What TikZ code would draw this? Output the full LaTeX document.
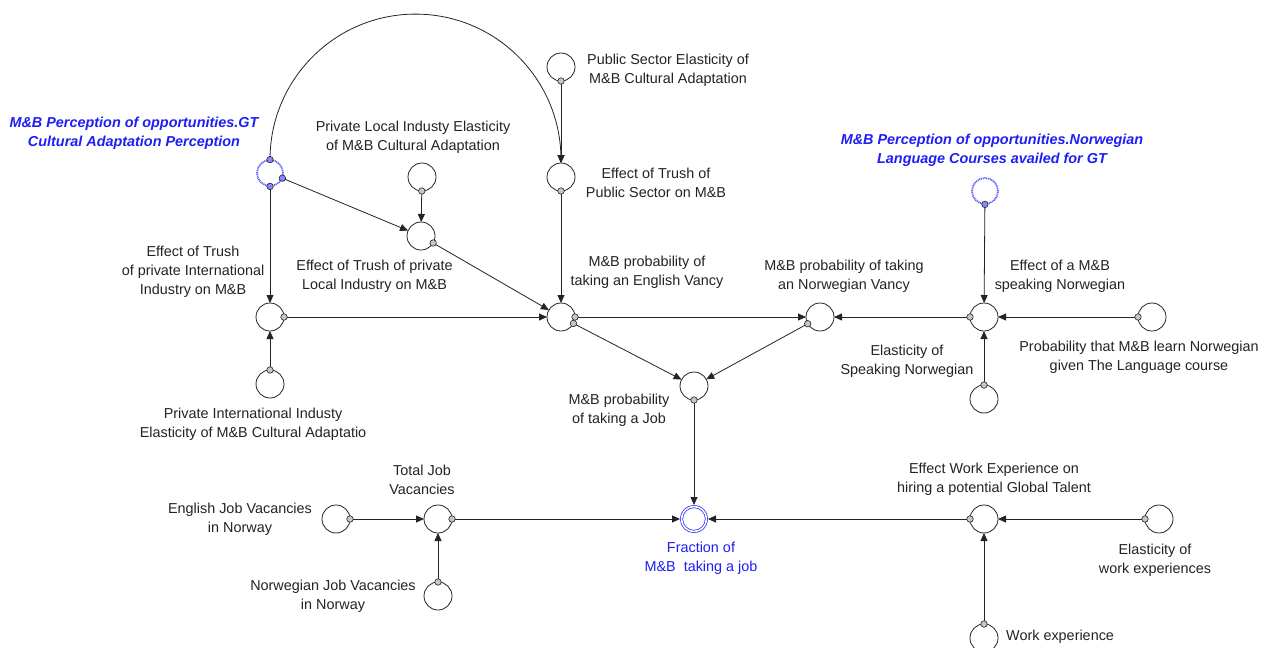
\documentclass[tikz,border=0pt]{standalone}
\usepackage{fontspec}
\setmainfont{Liberation Sans}
\usetikzlibrary{arrows.meta}
\definecolor{ink}{RGB}{35,35,40}
\definecolor{vblue}{RGB}{30,30,245}
\definecolor{ghost}{RGB}{95,95,255}

\begin{document}
\begin{tikzpicture}[x=1pt,y=-1pt,
  var/.style={circle,draw=ink,line width=0.8pt,minimum size=28pt,inner sep=0pt,outer sep=0pt},
  shadowvar/.style={circle,draw=ghost,line width=1.7pt,dash pattern=on 1.1pt off 0.7pt,minimum size=26pt,inner sep=0pt,outer sep=0.4pt},
  level/.style={circle,draw=vblue,double=white,double distance=1.6pt,line width=0.7pt,minimum size=25pt,inner sep=0pt,outer sep=1.5pt},
  tailc/.style={circle,draw=ink,fill=gray!45,line width=0.6pt,minimum size=6.5pt,inner sep=0pt},
  tailg/.style={tailc,fill=ghost!75},
  link/.style={draw=ink,line width=0.8pt,-{Triangle[length=8pt,width=7pt]}},
  lbl/.style={text=ink,align=center,font=\fontsize{14.4}{19}\selectfont,inner sep=0pt},
  bluelbl/.style={lbl,text=vblue},
  shadowlbl/.style={lbl,text=vblue,font=\fontsize{14.4}{19}\selectfont\bfseries\itshape},
]
\fill[white] (0,0) rectangle (1270,648);
\useasboundingbox (0,0) rectangle (1270,648);

% variables
\node[shadowvar] (gt) at (270,173) {};
\node[var] (inteff) at (270,317) {};
\node[var] (intel) at (270,384) {};
\node[var] (locel) at (422,177) {};
\node[var] (loceff) at (421,236) {};
\node[var] (pubel) at (561,67) {};
\node[var] (pubeff) at (561,177) {};
\node[var] (engp) at (561,317) {};
\node[var] (norp) at (820,317) {};
\node[var] (jobp) at (694,386) {};
\node[var] (speff) at (984,317) {};
\node[shadowvar] (norgt) at (985,191) {};
\node[var] (spel) at (984,399) {};
\node[var] (learn) at (1152,317) {};
\node[var] (engjob) at (336,519) {};
\node[var] (totjob) at (438,519) {};
\node[var] (norjob) at (438,596) {};
\node[level] (frac) at (694,519) {};
\node[var] (workeff) at (984,519) {};
\node[var] (workel) at (1159,519) {};
\node[var] (workexp) at (984,638) {};

% labels
\node[shadowlbl] (t-gt) at (134,133) {M\&B Perception of opportunities.GT\\Cultural Adaptation Perception};
\node[lbl] (t-inteff) at (193,272) {Effect of Trush\\of private International\\Industry on M\&B};
\node[lbl] (t-intel) at (253,424) {Private International Industy\\Elasticity of M\&B Cultural Adaptatio};
\node[lbl] (t-locel) at (413,137.5) {Private Local Industy Elasticity\\of M\&B Cultural Adaptation};
\node[lbl] (t-loceff) at (374.5,276) {Effect of Trush of private\\Local Industry on M\&B};
\node[lbl] (t-pubel) at (668,70.5) {Public Sector Elasticity of\\M\&B Cultural Adaptation};
\node[lbl] (t-pubeff) at (656,182.5) {Effect of Trush of\\Public Sector on M\&B};
\node[lbl] (t-engp) at (647,272) {M\&B probability of\\taking an English Vancy};
\node[lbl] (t-norp) at (844,276) {M\&B probability of taking\\an Norwegian Vancy};
\node[shadowlbl] (t-norgt) at (992,150) {M\&B Perception of opportunities.Norwegian\\Language Courses availed for GT};
\node[lbl] (t-speff) at (1060,276) {Effect of a M\&B\\speaking Norwegian};
\node[lbl] (t-spel) at (907,361.5) {Elasticity of\\Speaking Norwegian};
\node[lbl] (t-learn) at (1139,357) {Probability that M\&B learn Norwegian\\given The Language course};
\node[lbl] (t-jobp) at (619,410.5) {M\&B probability\\of taking a Job};
\node[lbl] (t-totjob) at (422,479.5) {Total Job\\Vacancies};
\node[lbl] (t-engjob) at (240,519.5) {English Job Vacancies\\in Norway};
\node[lbl] (t-norjob) at (333,596) {Norwegian Job Vacancies\\in Norway};
\node[bluelbl] (t-frac) at (701,558.5) {Fraction of\\M\&B\ \ taking a job};
\node[lbl] (t-workeff) at (994,479) {Effect Work Experience on\\hiring a potential Global Talent};
\node[lbl] (t-workel) at (1155,560.5) {Elasticity of\\work experiences};
\node[lbl,anchor=west] (t-workexp) at (1006,637) {Work experience};

% links
\draw[link] (gt) -- (inteff) node[tailg,pos=0] {};
\draw[link] (gt) -- (loceff) node[tailg,pos=0] {};
\draw[link] (gt.north) arc[start angle=180,end angle=0,radius=145.5pt] -- (pubeff.north);
\node[tailg] at (gt.north) {};
\draw[link] (locel) -- (loceff) node[tailc,pos=0] {};
\draw[link] (pubel) -- (pubeff) node[tailc,pos=0] {};
\draw[link] (pubeff) -- (engp) node[tailc,pos=0] {};
\draw[link] (loceff) -- (engp) node[tailc,pos=0] {};
\draw[link] (inteff) -- (engp) node[tailc,pos=0] {};
\draw[link] (intel) -- (inteff) node[tailc,pos=0] {};
\draw[link] (engp) -- (norp) node[tailc,pos=0] {};
\draw[link] (engp) -- (jobp) node[tailc,pos=0] {};
\draw[link] (norp) -- (jobp) node[tailc,pos=0] {};
\draw[link] (speff) -- (norp) node[tailc,pos=0] {};
\draw[link] (norgt) -- (speff) node[tailg,pos=0] {};
\draw[link] (spel) -- (speff) node[tailc,pos=0] {};
\draw[link] (learn) -- (speff) node[tailc,pos=0] {};
\draw[link] (jobp) -- (frac) node[tailc,pos=0] {};
\draw[link] (totjob) -- (frac) node[tailc,pos=0] {};
\draw[link] (engjob) -- (totjob) node[tailc,pos=0] {};
\draw[link] (norjob) -- (totjob) node[tailc,pos=0] {};
\draw[link] (workeff) -- (frac) node[tailc,pos=0] {};
\draw[link] (workel) -- (workeff) node[tailc,pos=0] {};
\draw[link] (workexp) -- (workeff) node[tailc,pos=0] {};
\end{tikzpicture}
\end{document}
